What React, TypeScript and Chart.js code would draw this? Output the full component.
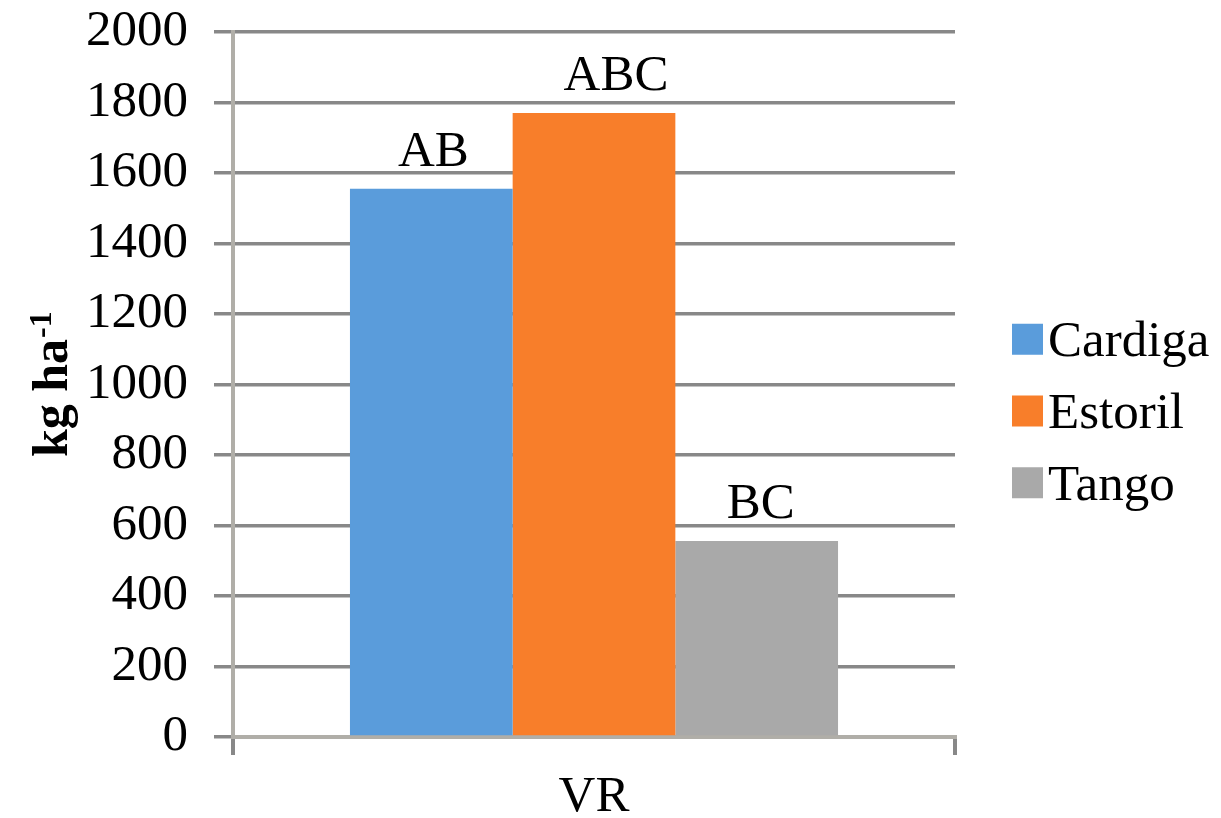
import React, { useEffect, useRef } from "react";
import { Chart, registerables } from "chart.js";

Chart.register(...registerables);

// Category, series and values
const categories = ["VR"];
const seriesNames = ["Cardiga", "Estoril", "Tango"];
const cardigaValues = [1555];
const estorilValues = [1770];
const tangoValues = [556];
const significanceLetters = ["AB", "ABC", "BC"];
const yAxisTitle = "kg ha";
const yAxisTitleSup = "-1";
const yMin = 0;
const yMax = 2000;
const yStep = 200;

const FONT = "'Liberation Serif', 'Times New Roman', serif";
const FONT_SIZE = 51;
const seriesColors = ["#5A9CDB", "#F87E2A", "#A9A9A9"];

// letters above each bar, with a small horizontal nudge per label
const letterLabels = {
  id: "letterLabels",
  afterDatasetsDraw(chart: any, _args: any, opts: any) {
    const ctx = chart.ctx;
    ctx.save();
    ctx.font = `${FONT_SIZE}px ${FONT}`;
    ctx.fillStyle = "#000";
    ctx.textAlign = "center";
    ctx.textBaseline = "alphabetic";
    chart.data.datasets.forEach((_ds: any, i: number) => {
      const meta = chart.getDatasetMeta(i);
      meta.data.forEach((bar: any) => {
        const dx = (opts.nudges && opts.nudges[i]) || 0;
        ctx.fillText(significanceLetters[i], bar.x + dx, bar.y - opts.gap);
      });
    });
    ctx.restore();
  },
};

// legend on the right and rotated y-axis title with superscript
const sideTexts = {
  id: "sideTexts",
  afterDraw(chart: any) {
    const ctx = chart.ctx;
    const area = chart.chartArea;
    ctx.save();
    // legend
    const boxX = area.right + 57;
    const boxSize = 31;
    const rowStep = 71.75;
    const midY = (area.top + area.bottom) / 2;
    const n = chart.data.datasets.length;
    ctx.font = `${FONT_SIZE}px ${FONT}`;
    ctx.textAlign = "left";
    ctx.textBaseline = "alphabetic";
    chart.data.datasets.forEach((ds: any, i: number) => {
      const cy = midY + (i - (n - 1) / 2) * rowStep + 26.5;
      ctx.fillStyle = ds.backgroundColor;
      ctx.fillRect(boxX, cy - boxSize / 2, boxSize, boxSize);
      ctx.fillStyle = "#000";
      ctx.fillText(ds.label, boxX + boxSize + 5, cy + 17);
    });

    // y-axis title
    ctx.translate(67, 457);
    ctx.rotate(-Math.PI / 2);
    ctx.font = `bold 50px ${FONT}`;
    ctx.fillStyle = "#000";
    ctx.fillText(yAxisTitle, 0, 0);
    const w = ctx.measureText(yAxisTitle).width;
    ctx.font = `bold 32px ${FONT}`;
    ctx.fillText(yAxisTitleSup, w + 1, -16);
    ctx.restore();
  },
};

export default function App() {
  const canvasRef = useRef<HTMLCanvasElement | null>(null);

  useEffect(() => {
    document.body.style.margin = "0";
    const canvas = canvasRef.current;
    if (!canvas) return;
    const valueSets = [cardigaValues, estorilValues, tangoValues];
    const chart = new Chart(canvas, {
      type: "bar",
      data: {
        labels: categories,
        datasets: seriesNames.map((name, i) => ({
          label: name,
          data: valueSets[i],
          backgroundColor: seriesColors[i],
          borderWidth: 0,
          barPercentage: 1,
          categoryPercentage: 0.676,
        })),
      },
      options: {
        animation: false,
        responsive: true,
        maintainAspectRatio: false,
        layout: { padding: { top: 32, right: 266, left: 0, bottom: 0 } },
        plugins: {
          legend: { display: false },
          tooltip: { enabled: false },
          letterLabels: { gap: 23, nudges: [2, 22, 4] },
        } as any,
        scales: {
          x: {
            afterFit(scale: any) {
              scale.height = 81;
            },
            grid: {
              offset: true,
              drawOnChartArea: false,
              drawTicks: true,
              tickLength: 18,
              color: "#888888",
              lineWidth: 4,
            },
            border: { display: true, color: "#B0AEA8", width: 4 },
            ticks: {
              color: "#000",
              padding: 12,
              font: { family: FONT, size: FONT_SIZE },
            },
          },
          y: {
            min: yMin,
            max: yMax,
            afterFit(scale: any) {
              scale.width = 233;
              scale.paddingTop = 0;
              scale.paddingBottom = 0;
            },
            grid: {
              color: "#888888",
              lineWidth: 3.5,
              tickLength: 19,
              drawTicks: true,
            },
            border: { display: true, color: "#B0AEA8", width: 4 },
            ticks: {
              stepSize: yStep,
              color: "#000",
              padding: 26,
              font: { family: FONT, size: FONT_SIZE },
              callback: (v: any) => String(v),
            },
          },
        },
      },
      plugins: [letterLabels, sideTexts],
    });
    return () => chart.destroy();
  }, []);

  return (
    <div style={{ position: "relative", width: 1221, height: 818, background: "#fff" }}>
      <canvas ref={canvasRef} />
    </div>
  );
}
